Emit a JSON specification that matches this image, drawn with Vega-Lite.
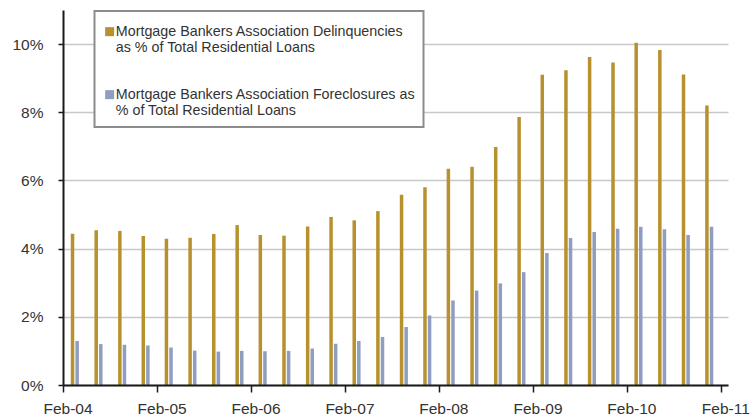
{
  "$schema": "https://vega.github.io/schema/vega-lite/v6.json",
  "width": 665,
  "height": 375,
  "autosize": {"type": "none"},
  "padding": {"left": 63, "top": 10, "right": 27, "bottom": 34},
  "background": "white",
  "config": {"view": {"stroke": null}, "font": "Liberation Sans", "legend": {"strokeWidth": 2}},
  "data": {
    "values": [
      {"date": "2004-03-18", "delinq": 4.44, "foreclos": 1.29},
      {"date": "2004-06-18", "delinq": 4.54, "foreclos": 1.20},
      {"date": "2004-09-18", "delinq": 4.52, "foreclos": 1.18},
      {"date": "2004-12-18", "delinq": 4.37, "foreclos": 1.16},
      {"date": "2005-03-18", "delinq": 4.29, "foreclos": 1.10},
      {"date": "2005-06-18", "delinq": 4.32, "foreclos": 1.01},
      {"date": "2005-09-18", "delinq": 4.43, "foreclos": 0.98},
      {"date": "2005-12-18", "delinq": 4.69, "foreclos": 1.00},
      {"date": "2006-03-18", "delinq": 4.40, "foreclos": 0.99},
      {"date": "2006-06-18", "delinq": 4.38, "foreclos": 1.00},
      {"date": "2006-09-18", "delinq": 4.65, "foreclos": 1.07},
      {"date": "2006-12-18", "delinq": 4.93, "foreclos": 1.21},
      {"date": "2007-03-18", "delinq": 4.83, "foreclos": 1.29},
      {"date": "2007-06-18", "delinq": 5.10, "foreclos": 1.41},
      {"date": "2007-09-18", "delinq": 5.58, "foreclos": 1.70},
      {"date": "2007-12-18", "delinq": 5.80, "foreclos": 2.04},
      {"date": "2008-03-18", "delinq": 6.34, "foreclos": 2.48},
      {"date": "2008-06-18", "delinq": 6.40, "foreclos": 2.77},
      {"date": "2008-09-18", "delinq": 6.98, "foreclos": 2.98},
      {"date": "2008-12-18", "delinq": 7.86, "foreclos": 3.31},
      {"date": "2009-03-18", "delinq": 9.10, "foreclos": 3.87},
      {"date": "2009-06-18", "delinq": 9.23, "foreclos": 4.31},
      {"date": "2009-09-18", "delinq": 9.62, "foreclos": 4.49},
      {"date": "2009-12-18", "delinq": 9.46, "foreclos": 4.58},
      {"date": "2010-03-18", "delinq": 10.04, "foreclos": 4.64},
      {"date": "2010-06-18", "delinq": 9.83, "foreclos": 4.57},
      {"date": "2010-09-18", "delinq": 9.11, "foreclos": 4.40},
      {"date": "2010-12-18", "delinq": 8.20, "foreclos": 4.64}
    ]
  },
  "encoding": {
    "x": {
      "field": "date",
      "type": "temporal",
      "scale": {
        "type": "utc",
        "padding": 0,
        "domain": [
          {"year": 2004, "month": 2, "date": 1, "utc": true},
          {"year": 2011, "month": 3, "date": 1, "utc": true}
        ]
      },
      "axis": {
        "title": null,
        "grid": false,
        "values": [
          {"year": 2004, "month": 2, "date": 1, "utc": true},
          {"year": 2005, "month": 2, "date": 1, "utc": true},
          {"year": 2006, "month": 2, "date": 1, "utc": true},
          {"year": 2007, "month": 2, "date": 1, "utc": true},
          {"year": 2008, "month": 2, "date": 1, "utc": true},
          {"year": 2009, "month": 2, "date": 1, "utc": true},
          {"year": 2010, "month": 2, "date": 1, "utc": true},
          {"year": 2011, "month": 2, "date": 1, "utc": true}
        ],
        "format": "%b-%y",
        "domainColor": "#1a1a1a",
        "domainWidth": 2,
        "tickColor": "#1a1a1a",
        "tickWidth": 1.5,
        "tickSize": 7,
        "labelFontSize": 15.5,
        "labelColor": "#333333",
        "labelPadding": 9,
        "labelOffset": 4.5,
        "labelFlush": false,
        "labelOverlap": false,
        "zindex": 1
      }
    }
  },
  "layer": [
    {
      "mark": {"type": "bar", "width": 3.5, "xOffset": -2.3},
      "encoding": {
        "y": {
          "field": "delinq",
          "type": "quantitative",
          "scale": {"domain": [0, 11], "nice": false},
          "axis": {
            "title": null,
            "values": [0, 2, 4, 6, 8, 10],
            "labelExpr": "datum.value + '%'",
            "grid": true,
            "gridColor": "#c8c8c8",
            "gridWidth": 1.5,
            "domainColor": "#1a1a1a",
            "domainWidth": 2,
            "tickColor": "#1a1a1a",
            "tickWidth": 1.5,
            "tickSize": 5,
            "labelFontSize": 15.5,
            "labelColor": "#333333",
            "labelPadding": 15
          }
        },
        "color": {
          "datum": "Delinquencies",
          "scale": {"domain": ["Delinquencies", "Foreclosures"], "range": ["#B8912F", "#8E9DC0"]},
          "legend": {
            "orient": "none",
            "legendX": 31.5,
            "legendY": 1,
            "title": " ",
            "titleFontSize": 2,
            "titlePadding": 3.5,
            "fillColor": "white",
            "strokeColor": "#8c8c8c",
            "padding": 8,
            "symbolType": "square",
            "symbolSize": 81,
            "symbolStrokeWidth": 0,
            "symbolOpacity": 1,
            "labelFontSize": 14.3,
            "labelColor": "#333333",
            "labelLimit": 400,
            "labelOffset": -1,
            "rowPadding": 32,
            "labelBaseline": "middle",
            "labelExpr": "datum.label == 'Delinquencies' ? ['Mortgage Bankers Association Delinquencies', 'as % of Total Residential Loans'] : ['Mortgage Bankers Association Foreclosures as', '% of Total Residential Loans']",
            "encoding": {"labels": {"update": {"dy": {"value": 9.5}, "lineHeight": {"value": 17.5}}}}
          }
        }
      }
    },
    {
      "mark": {"type": "bar", "width": 3.5, "xOffset": 2.3},
      "encoding": {
        "y": {"field": "foreclos", "type": "quantitative"},
        "color": {"datum": "Foreclosures"}
      }
    }
  ]
}
